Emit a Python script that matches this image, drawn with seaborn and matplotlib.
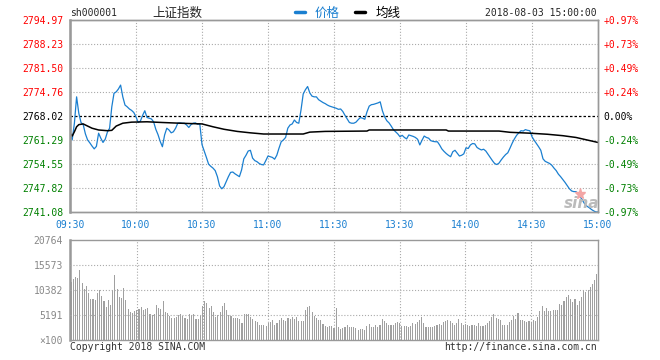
import numpy as np
import pandas as pd
import matplotlib
matplotlib.use("Agg")
import matplotlib.pyplot as plt
import seaborn as sns

# ---- data (minute index 0..240, 09:30-11:30 / 13:00-15:00) ----
prev_close = 2768.02

price = [
	2763.2, 2761.3, 2766.0, 2773.4, 2768.8, 2766.2, 2765.6, 2763.0, 2761.3, 2760.5,
	2759.6, 2758.8, 2759.5, 2763.2, 2761.8, 2760.6, 2761.5, 2763.5, 2764.6, 2770.6,
	2774.4, 2774.8, 2775.6, 2776.7, 2773.4, 2771.1, 2770.6, 2770.0, 2769.6, 2769.0,
	2767.8, 2766.2, 2766.6, 2768.2, 2769.5, 2767.6, 2767.4, 2767.2, 2766.4, 2764.3,
	2762.8, 2760.9, 2759.4, 2762.7, 2764.6, 2764.1, 2763.3, 2763.6, 2764.6, 2766.0,
	2766.1, 2766.0, 2766.0, 2765.5, 2764.8, 2765.6, 2766.0, 2766.1, 2765.7, 2765.8,
	2760.0, 2758.2, 2756.4, 2754.5, 2753.9, 2753.4, 2752.7, 2751.0, 2748.4, 2747.6,
	2748.2, 2749.6, 2751.0, 2752.2, 2752.3, 2751.8, 2751.4, 2751.0, 2752.9, 2756.0,
	2757.0, 2758.2, 2758.4, 2756.2, 2755.5, 2755.2, 2754.7, 2754.4, 2754.3, 2755.5,
	2756.8, 2756.6, 2756.4, 2755.9, 2757.0, 2759.0, 2760.8, 2761.3, 2762.0, 2764.6,
	2765.5, 2765.8, 2766.9, 2766.2, 2766.0, 2769.7, 2774.2, 2775.4, 2776.3, 2774.5,
	2773.6, 2773.4, 2773.4, 2772.6, 2772.2, 2771.8, 2771.5, 2771.1, 2770.8, 2770.6,
	2770.4, 2770.2, 2769.9, 2770.0, 2769.3, 2768.2, 2767.2, 2766.2, 2766.0, 2766.0,
	2766.3, 2767.0, 2767.6, 2767.4, 2767.1, 2769.2, 2770.8, 2771.2, 2771.3, 2771.5,
	2771.7, 2772.0, 2769.5, 2767.8, 2766.7, 2766.1, 2765.2, 2764.2, 2763.6, 2763.0,
	2762.2, 2762.6, 2762.0, 2761.6, 2762.7, 2762.5, 2762.3, 2762.0, 2761.5, 2759.9,
	2761.2, 2762.4, 2762.0, 2761.8, 2761.1, 2760.9, 2760.8, 2760.8, 2759.9, 2758.8,
	2758.1, 2757.5, 2757.0, 2756.6, 2758.0, 2758.4, 2757.6, 2756.8, 2757.0, 2757.4,
	2759.1, 2758.9, 2759.9, 2760.3, 2760.2, 2759.2, 2758.8, 2758.5, 2758.7, 2758.2,
	2757.3, 2756.4, 2755.5, 2754.7, 2754.4, 2754.8, 2755.7, 2756.5, 2757.2, 2757.7,
	2759.0, 2760.4, 2761.6, 2762.6, 2763.3, 2763.9, 2763.8, 2764.2, 2764.0, 2763.9,
	2762.2, 2761.2, 2760.3, 2759.4, 2758.4, 2756.0, 2755.3, 2755.0, 2754.7, 2754.2,
	2753.4, 2752.7, 2751.7, 2751.0, 2750.2, 2749.4, 2748.5, 2747.6, 2747.0, 2746.8,
	2746.8, 2746.2, 2745.3, 2744.3, 2743.3, 2742.7, 2742.3, 2741.8, 2741.4, 2741.1,
	2741.1,
]

# average line, read at the minutes where it bends
avg_t = [0, 1, 2, 3, 4, 6, 8, 10, 13, 17, 19, 21, 24, 28, 35, 42, 50, 60, 65, 70,
	76, 82, 88, 106, 109, 116, 135, 136, 171, 172, 195, 200, 209, 217, 224, 230, 235, 240]
avg_px = [2763.2, 2762.4, 2763.6, 2765.0, 2765.6, 2765.8, 2765.2, 2764.6, 2764.1, 2763.9,
	2764.0, 2765.2, 2766.0, 2766.3, 2766.4, 2766.2, 2766.0, 2765.8, 2765.0, 2764.3,
	2763.7, 2763.3, 2762.97, 2762.97, 2763.5, 2763.7, 2763.8, 2764.1, 2764.1, 2763.8,
	2763.8, 2763.45, 2763.2, 2762.9, 2762.5, 2762.0, 2761.3, 2760.6]

# volume in units of 100
volume = [
	12000, 12600, 13150, 12940, 14530, 11900, 10520, 11210, 9830, 8580,
	8580, 8300, 9690, 10380, 9130, 8170, 6920, 8300, 7270, 10380,
	13490, 10520, 9000, 8650, 10730, 8300, 6440, 5880, 5670, 6090,
	6230, 6500, 6800, 6300, 6500, 6600, 5400, 5100, 5500, 7200,
	6600, 6500, 8200, 5800, 5600, 5000, 4600, 4500, 4800, 5200,
	5500, 4900, 4600, 4400, 5400, 5200, 5500, 4400, 4300, 5000,
	7000, 8100, 7700, 6700, 7100, 5800, 4800, 5200, 5800, 7100,
	7600, 6300, 5200, 4900, 4600, 4600, 4600, 4400, 3500, 5300,
	5500, 5500, 4700, 4400, 4000, 3700, 3100, 3100, 3100, 2900,
	3500, 3800, 4200, 3100, 3600, 4200, 4500, 4100, 4000, 4600,
	4300, 4800, 4400, 4700, 3900, 3900, 4000, 6300, 6800, 7100,
	5800, 5000, 4600, 4100, 4100, 3300, 3000, 2800, 2900, 2900,
	2500, 6700, 2600, 2300, 2400, 2600, 3100, 2700, 2600, 2800,
	2400, 2100, 2200, 2300, 2100, 3000, 3300, 2800, 2700, 3100,
	2800, 3200, 4400, 3900, 3500, 3100, 3100, 3200, 3600, 3700,
	3600, 3000, 3000, 2900, 2700, 2900, 3500, 3300, 3800, 4100,
	4800, 3500, 2800, 2600, 2700, 2700, 3000, 3200, 3300, 3200,
	3800, 3900, 4100, 4000, 3500, 3200, 3600, 4400, 3600, 3100,
	3300, 3200, 3000, 3100, 3100, 3000, 3600, 2900, 2900, 3100,
	3600, 4000, 4700, 5300, 4600, 4400, 4100, 3200, 3200, 3200,
	3700, 4100, 5000, 4400, 5700, 4200, 4100, 4000, 3700, 4000,
	3800, 4100, 4000, 4700, 6100, 7100, 6100, 6700, 6100, 6000,
	6200, 6200, 6300, 7500, 7300, 8200, 8900, 9300, 8600, 7900,
	8600, 7200, 8200, 9000, 10300, 9900, 10400, 11000, 11700, 12500,
	13700,
]

price_ticks = [2741.08, 2747.82, 2754.55, 2761.29, 2768.02, 2774.76, 2781.50, 2788.23, 2794.97]
time_ticks = [0, 30, 60, 90, 120, 150, 180, 210, 240]
time_labels = ["09:30", "10:00", "10:30", "11:00", "11:30", "13:30", "14:00", "14:30", "15:00"]
vol_ticks = [0, 5191, 10382, 15573, 20764]
vol_labels = ["\u00d7100", "5191", "10382", "15573", "20764"]

df = pd.DataFrame({"t": np.arange(len(price)), "price": price, "vol": volume})
avg_df = pd.DataFrame({"t": avg_t, "avg": avg_px})

sns.set_style("white")
plt.rcParams["font.family"] = ["DejaVu Sans Mono", "Noto Sans CJK SC"]

RED = "#ff0000"
GREEN = "#008000"
BLUE = "#1a7fd0"
GRID = "#aaaaaa"
FRAME = "#999999"

fig = plt.figure(figsize=(6.6, 3.6), dpi=100)
ax = fig.add_axes([70/660, 1-212/360, 528/660, 192/360])
axv = fig.add_axes([70/660, 1-340/360, 528/660, 100/360])

# price panel
sns.lineplot(data=df, x="t", y="price", ax=ax, color=BLUE, lw=0.9)
sns.lineplot(data=avg_df, x="t", y="avg", ax=ax, color="black", lw=1.1)
ax.axhline(prev_close, color="black", lw=0.9, ls=(0, (2, 1.6)), zorder=1)

ax.set_xlim(0, 240)
ax.set_ylim(price_ticks[0], price_ticks[-1])
ax.set_xticks(time_ticks)
ax.set_xticklabels(time_labels, color=BLUE, fontsize=7)
ax.set_yticks(price_ticks)
ax.set_yticklabels(["%.2f" % p for p in price_ticks], fontsize=7)
for lab, p in zip(ax.get_yticklabels(), price_ticks):
	lab.set_color(RED if p > prev_close + 0.001 else (GREEN if p < prev_close - 0.001 else "black"))
ax.tick_params(length=0, pad=5)
ax.tick_params(axis="x", pad=6)
ax.set_xlabel("")
ax.set_ylabel("")
for t in time_ticks[1:-1]:
	ax.axvline(t, color=GRID, lw=0.8, ls=":", zorder=0)
for p in price_ticks[1:-1]:
	if abs(p - prev_close) > 0.001:
		ax.axhline(p, color=GRID, lw=0.8, ls=":", zorder=0)

axr = ax.twinx()
axr.set_ylim(ax.get_ylim())
axr.set_yticks(price_ticks)
pct = [(p - prev_close) / prev_close * 100 for p in price_ticks]
axr.set_yticklabels([("+%.2f%%" % v) if v > 0.001 else ("%.2f%%" % v if v < -0.001 else "0.00%") for v in pct], fontsize=7)
for lab, v in zip(axr.get_yticklabels(), pct):
	lab.set_color(RED if v > 0.001 else (GREEN if v < -0.001 else "black"))
axr.tick_params(length=0, pad=4)

for a in (ax, axr):
	for s in a.spines.values():
		s.set_color(FRAME)
		s.set_linewidth(1.0)
ax.spines["left"].set_linewidth(1.8)

# volume panel
sns.barplot(data=df, x="t", y="vol", ax=axv, color="#a0a0a0", saturation=1, width=0.5, linewidth=0)
axv.set_xlim(-0.5, 240.5)
axv.set_ylim(0, vol_ticks[-1])
axv.set_xticks([])
axv.set_yticks(vol_ticks)
axv.set_yticklabels(vol_labels, color="#888888", fontsize=7)
axv.tick_params(length=0, pad=5)
axv.set_xlabel("")
axv.set_ylabel("")
for t in time_ticks[1:-1]:
	axv.axvline(t, color=GRID, lw=0.8, ls=":", zorder=0)
for v in vol_ticks[1:-1]:
	axv.axhline(v, color=GRID, lw=0.8, ls=":", zorder=3)
for s in axv.spines.values():
	s.set_color(FRAME)
	s.set_linewidth(1.0)
axv.spines["left"].set_linewidth(1.8)

# header
fig.text(70/660, 1-13/360, "sh000001", fontsize=7, va="center", ha="left")
fig.text(177/660, 1-13/360, "上证指数", fontsize=9, va="center", ha="center",
	family=["Noto Sans CJK SC", "DejaVu Sans"])
fig.lines.append(plt.Line2D([295/660, 305/660], [1-12/360, 1-12/360], color=BLUE, lw=2.5, transform=fig.transFigure))
fig.text(315/660, 1-13/360, "价格", fontsize=9, color=BLUE, va="center", ha="left",
	family=["Noto Sans CJK SC", "DejaVu Sans"])
fig.lines.append(plt.Line2D([355/660, 365/660], [1-12/360, 1-12/360], color="black", lw=2.5, transform=fig.transFigure))
fig.text(376/660, 1-13/360, "均线", fontsize=9, color="black", va="center", ha="left",
	family=["Noto Sans CJK SC", "DejaVu Sans"])
fig.text(597/660, 1-13/360, "2018-08-03 15:00:00", fontsize=7, va="center", ha="right")

# watermark (logo mark + word) and footer
fig.lines.append(plt.Line2D([580/660], [1-194/360], marker="*", ms=8, color="#f3a6a6",
	mec="#f3a6a6", lw=0, transform=fig.transFigure))
fig.text(582/660, 1-204/360, "sina", fontsize=11, color="#bbbbbb", style="italic", weight="bold",
	va="center", ha="center", family="DejaVu Sans")
fig.text(70/660, 1-347/360, "Copyright 2018 SINA.COM", fontsize=7, color="#333333", va="center", ha="left")
fig.text(597/660, 1-347/360, "http://finance.sina.com.cn", fontsize=7, color="#333333", va="center", ha="right")

fig.savefig("out.png", dpi=100)
